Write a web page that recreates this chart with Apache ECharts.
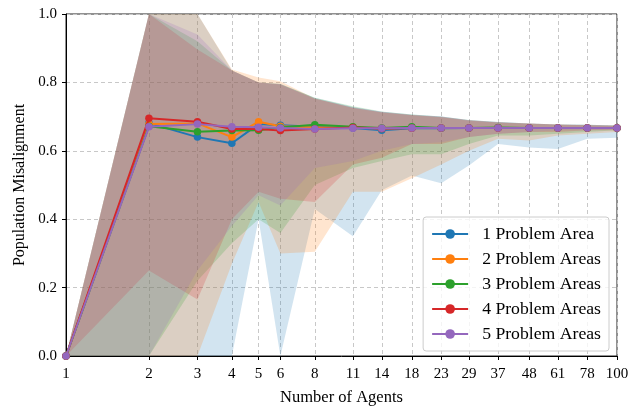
<!DOCTYPE html>
<html>
<head>
<meta charset="utf-8">
<script src="https://cdn.jsdelivr.net/npm/echarts@6/dist/echarts.min.js"></script>
<style>html,body{margin:0;padding:0;background:#fff}#c{width:641px;height:411px}</style>
</head>
<body>
<div id="c"></div>
<script>
const agents = [1, 2, 3, 4, 5, 6, 8, 11, 14, 18, 23, 29, 37, 48, 61, 78, 100];
const tickLabels = [1, 2, 3, 4, 5, 6, 8, 11, 14, 18, 23, 29, 37, 48, 61, 78, 100];
const yTicks = [0, 0.2, 0.4, 0.6, 0.8, 1.0];
const seriesNames = ['1 Problem Area', '2 Problem Areas', '3 Problem Areas', '4 Problem Areas', '5 Problem Areas'];
const colors = ['#1f77b4', '#ff7f0e', '#2ca02c', '#d62728', '#9467bd'];

const mean1 = [0, 0.681, 0.640, 0.622, 0.678, 0.675, 0.670, 0.667, 0.660, 0.666, 0.666, 0.667, 0.667, 0.667, 0.667, 0.667, 0.667];
const mean2 = [0, 0.678, 0.680, 0.640, 0.685, 0.672, 0.668, 0.668, 0.665, 0.667, 0.667, 0.667, 0.667, 0.667, 0.667, 0.667, 0.667];
const mean3 = [0, 0.672, 0.656, 0.659, 0.660, 0.668, 0.676, 0.670, 0.667, 0.670, 0.667, 0.667, 0.668, 0.667, 0.667, 0.667, 0.667];
const mean4 = [0, 0.695, 0.685, 0.664, 0.664, 0.659, 0.664, 0.668, 0.665, 0.667, 0.667, 0.667, 0.667, 0.667, 0.667, 0.667, 0.667];
const mean5 = [0, 0.670, 0.678, 0.670, 0.669, 0.667, 0.664, 0.666, 0.666, 0.667, 0.667, 0.667, 0.667, 0.667, 0.667, 0.667, 0.667];

const low1 = [0, 0, 0, 0, 0.40, 0, 0.43, 0.35, 0.485, 0.528, 0.505, 0.557, 0.62, 0.61, 0.605, 0.635, 0.638];
const low2 = [0, 0, 0, 0.27, 0.45, 0.30, 0.305, 0.48, 0.48, 0.52, 0.56, 0.60, 0.635, 0.63, 0.645, 0.65, 0.655];
const low3 = [0, 0, 0.22, 0.33, 0.40, 0.36, 0.50, 0.55, 0.57, 0.59, 0.59, 0.62, 0.645, 0.645, 0.65, 0.655, 0.66];
const low4 = [0, 0.25, 0.165, 0.40, 0.48, 0.46, 0.45, 0.56, 0.58, 0.62, 0.62, 0.64, 0.65, 0.655, 0.655, 0.66, 0.66];
const low5 = [0, 0, 0.25, 0.38, 0.47, 0.44, 0.55, 0.57, 0.60, 0.62, 0.625, 0.64, 0.65, 0.655, 0.66, 0.66, 0.662];

const up1 = [0, 1, 1, 0.835, 0.80, 0.795, 0.755, 0.728, 0.714, 0.706, 0.70, 0.69, 0.684, 0.68, 0.677, 0.676, 0.674];
const up2 = [0, 1, 1, 0.838, 0.814, 0.803, 0.753, 0.725, 0.712, 0.704, 0.698, 0.688, 0.683, 0.679, 0.676, 0.675, 0.673];
const up3 = [0, 1, 0.92, 0.835, 0.80, 0.795, 0.755, 0.73, 0.715, 0.706, 0.70, 0.69, 0.684, 0.68, 0.677, 0.676, 0.674];
const up4 = [0, 1, 0.896, 0.835, 0.80, 0.794, 0.752, 0.726, 0.713, 0.705, 0.699, 0.689, 0.683, 0.68, 0.677, 0.675, 0.673];
const up5 = [0, 1, 0.94, 0.835, 0.80, 0.795, 0.753, 0.727, 0.714, 0.705, 0.70, 0.689, 0.684, 0.68, 0.677, 0.676, 0.674];

const means = [mean1, mean2, mean3, mean4, mean5];
const lows = [low1, low2, low3, low4, low5];
const ups = [up1, up2, up3, up4, up5];

const FONT = 'Liberation Serif';
const chart = echarts.init(document.getElementById('c'), null, {renderer: 'canvas'});

const series = [];
for (let k = 0; k < 5; k++) {
  const lo = lows[k], hi = ups[k];
  series.push({
    type: 'custom',
    name: seriesNames[k] + ' band',
    silent: true,
    clip: true,
    z: 1,
    data: agents.map((a, i) => [a, lo[i], hi[i]]),
    encode: {x: 0, y: [1, 2]},
    renderItem: function (params, api) {
      if (params.dataIndex !== 0) return null;
      const pts = [];
      for (let i = 0; i < agents.length; i++) pts.push(api.coord([agents[i], hi[i]]));
      for (let i = agents.length - 1; i >= 0; i--) pts.push(api.coord([agents[i], lo[i]]));
      return {
        type: 'polygon',
        shape: {points: pts},
        style: {fill: colors[k], opacity: 0.2, stroke: null}
      };
    }
  });
}
for (let k = 0; k < 5; k++) {
  series.push({
    type: 'line',
    name: seriesNames[k],
    data: agents.map((a, i) => [a, means[k][i]]),
    color: colors[k],
    symbol: 'circle',
    symbolSize: 7.5,
    showSymbol: true,
    clip: false,
    z: 10 + k,
    lineStyle: {width: 2, color: colors[k]},
    itemStyle: {color: colors[k]},
    animation: false
  });
}

chart.setOption({
  animation: false,
  backgroundColor: '#fff',
  grid: {left: 66, right: 24, top: 14, bottom: 52, show: true, borderColor: '#222', borderWidth: 1, backgroundColor: 'transparent'},
  legend: {
    data: seriesNames,
    orient: 'vertical',
    right: 32,
    top: 217,
    padding: [8, 8, 8, 8],
    itemWidth: 36,
    itemHeight: 12,
    itemGap: 7,
    backgroundColor: 'rgba(255,255,255,0.8)',
    borderColor: '#cccccc',
    borderWidth: 1,
    borderRadius: 3,
    textStyle: {fontFamily: FONT, fontSize: 17.7, color: '#000', lineHeight: 18, padding: [0, 0, 0, 9]}
  },
  xAxis: {
    type: 'log',
    logBase: 10,
    min: 1,
    max: 100,
    name: 'Number of Agents',
    nameLocation: 'middle',
    nameGap: 33,
    nameTextStyle: {fontFamily: FONT, fontSize: 16.5, color: '#000'},
    axisLine: {show: true, lineStyle: {color: '#000', width: 1}},
    axisTick: {show: true, inside: false, length: 4, lineStyle: {color: '#000'}, customValues: tickLabels},
    axisLabel: {show: true, customValues: tickLabels, margin: 11, fontFamily: FONT, fontSize: 15, color: '#000',
      formatter: function (v) { return String(Math.round(v)); }},
    splitLine: {show: true, lineStyle: {color: '#c8c8c8', type: [4, 3], width: 1}},
    minorTick: {show: false},
    minorSplitLine: {show: false}
  },
  yAxis: {
    type: 'value',
    min: 0,
    max: 1,
    interval: 0.2,
    name: 'Population Misalignment',
    nameLocation: 'middle',
    nameGap: 35,
    nameTextStyle: {fontFamily: FONT, fontSize: 16, color: '#000'},
    axisLine: {show: true, lineStyle: {color: '#000', width: 1}},
    axisTick: {show: true, inside: false, length: 4, lineStyle: {color: '#000'}},
    axisLabel: {margin: 9, fontFamily: FONT, fontSize: 15, color: '#000',
      formatter: function (v) { return v.toFixed(1); }},
    splitLine: {show: true, lineStyle: {color: '#c8c8c8', type: [4, 3], width: 1}}
  },
  series: series
});
</script>
</body>
</html>
